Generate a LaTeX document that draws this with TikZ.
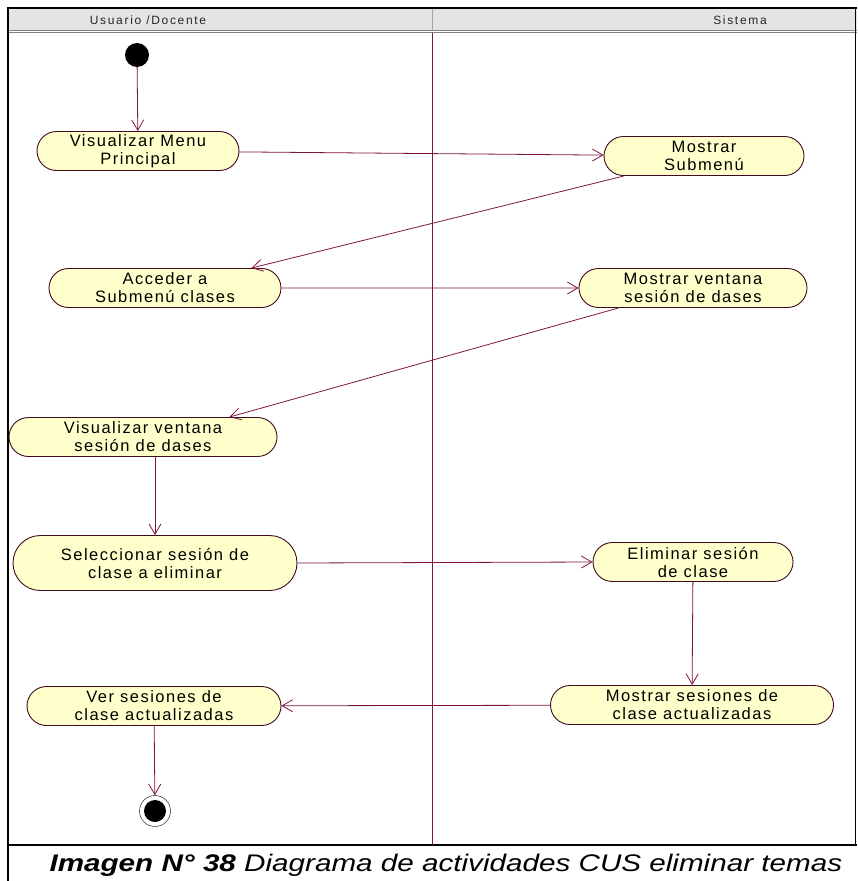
\documentclass[tikz,border=0pt]{standalone}
\usepackage{fontspec}
\setmainfont{Liberation Sans}
\newfontfamily\actfont[LetterSpace=9]{Liberation Sans}
\newfontfamily\headfont[LetterSpace=14]{Liberation Sans}
\newfontfamily\capfont[FakeStretch=1.235]{Liberation Sans}
\usetikzlibrary{arrows.meta,shapes.misc}
\definecolor{umlred}{RGB}{128,20,64}
\definecolor{actfill}{RGB}{255,255,204}
\definecolor{headgray}{RGB}{228,228,228}
\tikzset{
  act/.style={rounded rectangle,draw=umlred!50!black,line width=0.9pt,fill=actfill,
    minimum height=39pt,align=center,inner sep=1pt,text=black,
    font=\actfont\fontsize{16.5}{18}\selectfont},
  flow/.style={draw=umlred,line width=0.8pt,-{Straight Barb[angle=60:12pt]}},
  headtxt/.style={font=\headfont\fontsize{12}{14}\selectfont,text=black!85}
}
\begin{document}
\begin{tikzpicture}[x=1pt,y=-1pt]
\useasboundingbox (0,0) rectangle (857,881);
% cabecera de carriles
\fill[headgray](8,8)rectangle(857,30);
\draw[gray,double,double distance=1.5pt](8,31.5)--(857,31.5);
\draw[gray!70](432,8)--(432,30);
\draw[line width=1.2pt](8,881)--(8,8)--(857,8);
\draw(855,8)--(855,845);
\draw[line width=1.2pt](8,845)--(857,845);
\draw[umlred](432,33)--(432,845);
\node[headtxt](husr)at(148,20){Usuario /Docente};
\node[headtxt](hsis)at(740,20){Sistema};
% actividades
\node[circle,fill=black,minimum size=24pt,inner sep=0pt](ini)at(137,55){};
\node[act,minimum width=204pt](vmenu)at(138,151){Visualizar Menu\\Principal};
\node[act,minimum width=202pt](msub)at(704,156){Mostrar\\Submenú};
\node[act,minimum width=234pt](acc)at(165,288){Acceder a\\Submenú clases};
\node[act,minimum width=230pt](mven)at(693,288){Mostrar ventana\\sesión de dases};
\node[act,minimum width=270pt](vven)at(143,437){Visualizar ventana\\sesión de dases};
\node[act,minimum width=286pt,minimum height=55pt](sel)at(155,563){Seleccionar sesión de\\clase a eliminar};
\node[act,minimum width=202pt](elim)at(693,562){Eliminar sesión\\de clase};
\node[act,minimum width=285pt](msa)at(692,705){Mostrar sesiones de\\clase actualizadas};
\node[act,minimum width=256pt](ver)at(154,706){Ver sesiones de\\clase actualizadas};
\node[circle,draw,minimum size=31pt,inner sep=0pt](fin)at(155,811){};
\node[circle,fill=black,minimum size=22pt,inner sep=0pt](finin)at(fin){};
% flujos
\draw[flow](ini)--(vmenu);
\draw[flow](vmenu)--(msub);
\draw[flow](msub.194)--(acc.13);
\draw[flow](acc)--(mven);
\draw[flow](mven.195)--(vven.13);
\draw[flow](sel|-vven.south)--(sel.north);
\draw[flow](sel.east)--(elim.west);
\draw[flow](elim)--(msa);
\draw[flow](msa)--(ver);
\draw[flow](ver)--(fin);
% pie
\node[anchor=base west,font=\capfont\fontsize{24}{28}\selectfont\itshape](cap)at(46,871)
  {\textbf{Imagen N° 38} Diagrama de actividades CUS eliminar temas};
\end{tikzpicture}
\end{document}
